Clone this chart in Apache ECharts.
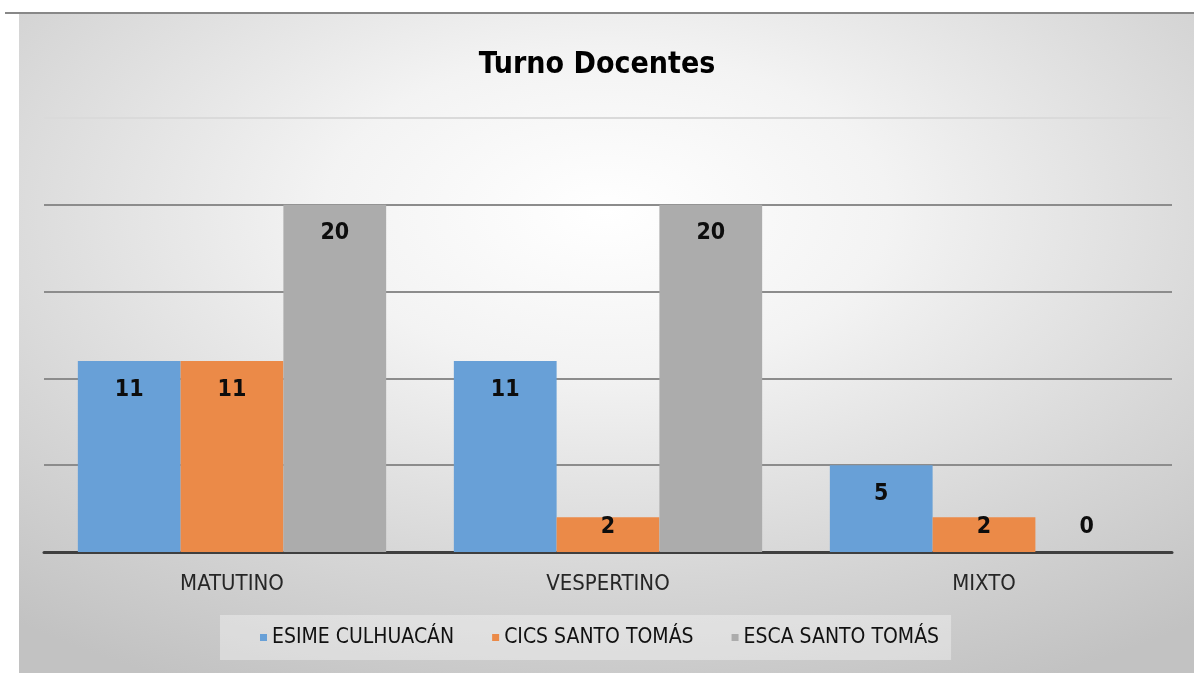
<!DOCTYPE html>
<html>
<head>
<meta charset="utf-8">
<script src="https://cdn.jsdelivr.net/npm/echarts@6/dist/echarts.min.js"></script>
<style>
html,body{margin:0;padding:0;background:#fff;}
#chart{width:1194px;height:673px;}
</style>
</head>
<body>
<div id="chart"></div>
<script>
const categories = ['MATUTINO', 'VESPERTINO', 'MIXTO'];
const seriesNames = ['ESIME CULHUACÁN', 'CICS SANTO TOMÁS', 'ESCA SANTO TOMÁS'];
const esimeValues = [11, 11, 5];
const cicsValues = [11, 2, 2];
const escaValues = [20, 20, 0];
const colors = ['#68a0d7', '#eb8a48', '#acacac'];

const FONT = "'Liberation Sans Narrow', 'Arial Narrow', 'DejaVu Sans Condensed', sans-serif";

function toData(vals) {
  return vals.map(v => {
    if (v <= 3) {
      return { value: v, label: { position: 'insideBottom', distance: 13 } };
    }
    return v;
  });
}

const chart = echarts.init(document.getElementById('chart'), null, { renderer: 'canvas' });

const seriesVals = [esimeValues, cicsValues, escaValues];

chart.setOption({
  backgroundColor: '#ffffff',
  animation: false,
  title: {
    text: 'Turno Docentes',
    left: 'center',
    top: 45,
    textStyle: { fontFamily: FONT, fontWeight: 'bold', fontSize: 30, color: '#000' }
  },
  graphic: [
    {
      type: 'rect', z: -10, silent: true,
      x: 19, y: 14,
      scaleX: 1175 / 659, scaleY: 1,
      shape: { x: 0, y: 0, width: 659, height: 659 },
      style: {
        fill: {
          type: 'radial', x: 0.5, y: 0.3, r: 0.8,
          colorStops: [
            { offset: 0, color: '#ffffff' },
            { offset: 0.3, color: '#f3f3f3' },
            { offset: 0.7, color: '#d6d6d6' },
            { offset: 1, color: '#c2c2c2' }
          ]
        }
      }
    },
    {
      type: 'line', z: -5, silent: true,
      shape: { x1: 5, y1: 13, x2: 1194, y2: 13 },
      style: { stroke: '#888888', lineWidth: 2 }
    }
  ],
  legend: {
    data: seriesNames,
    bottom: 13,
    left: 220,
    itemWidth: 7,
    itemHeight: 7,
    itemGap: 38,
    icon: 'rect',
    padding: [12, 12, 12, 40],
    backgroundColor: 'rgba(255,255,255,0.35)',
    textStyle: { fontFamily: FONT, fontSize: 21, color: '#111111' }
  },
  grid: { left: 44, right: 22, top: 118, bottom: 121 },
  xAxis: {
    type: 'category',
    data: categories,
    axisLine: { lineStyle: { color: '#3f3f3f', width: 3 } },
    axisTick: { show: false },
    axisLabel: { fontFamily: FONT, fontSize: 22, color: '#262626', margin: 21 }
  },
  yAxis: {
    type: 'value',
    min: 0, max: 25, interval: 5,
    axisLine: { show: false },
    axisTick: { show: false },
    axisLabel: { show: false },
    splitLine: { lineStyle: { color: ['#8c8c8c', '#8c8c8c', '#8c8c8c', '#8c8c8c', '#8c8c8c', '#dadada'], width: 2 } }
  },
  series: seriesNames.map((name, i) => ({
    name: name,
    type: 'bar',
    data: toData(seriesVals[i]),
    barGap: '0%',
    barCategoryGap: '18%',
    itemStyle: { color: colors[i] },
    label: {
      show: true,
      position: 'insideTop',
      distance: 17,
      fontFamily: FONT,
      fontWeight: 'bold',
      fontSize: 23,
      color: '#0d0d0d'
    }
  }))
});
</script>
</body>
</html>
